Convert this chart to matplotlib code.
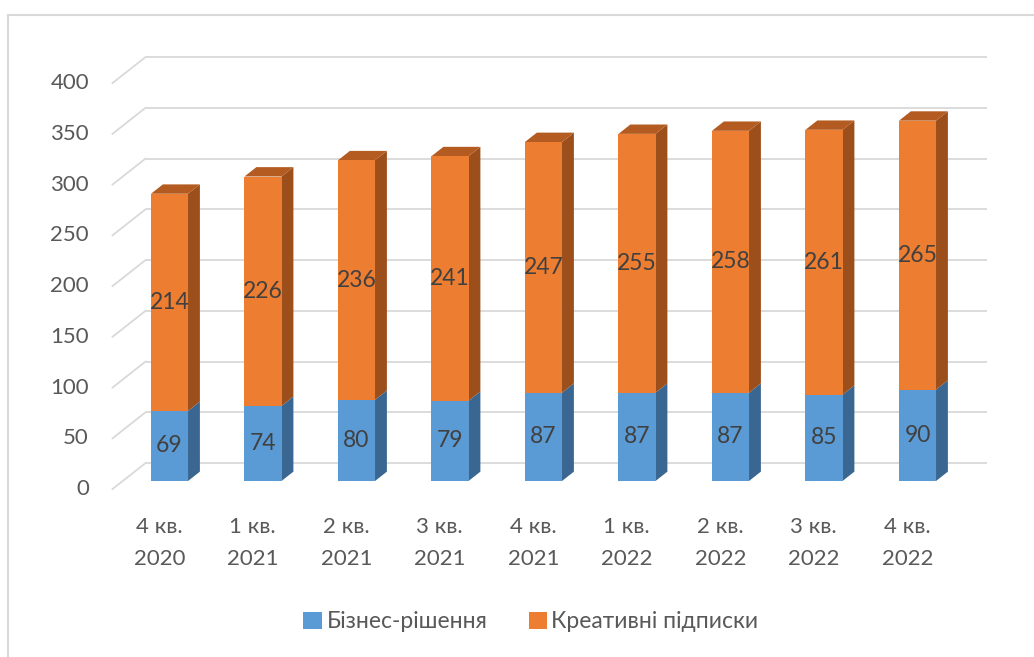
import matplotlib
matplotlib.use("Agg")
import matplotlib.pyplot as plt
from matplotlib.patches import Polygon, Patch
from matplotlib.lines import Line2D

plt.rcParams['font.family'] = ['Lato', 'DejaVu Sans']

# ---- data -------------------------------------------------------------
quarters = ["4 кв.\n2020", "1 кв.\n2021", "2 кв.\n2021", "3 кв.\n2021", "4 кв.\n2021",
            "1 кв.\n2022", "2 кв.\n2022", "3 кв.\n2022", "4 кв.\n2022"]
business = [69, 74, 80, 79, 87, 87, 87, 85, 90]
creative = [214, 226, 236, 241, 247, 255, 258, 261, 265]
series_names = ["Бізнес-рішення", "Креативні підписки"]
y_ticks = [0, 50, 100, 150, 200, 250, 300, 350, 400]

# ---- styling ----------------------------------------------------------
W, H, DPI = 1034, 657, 100
PX_PER_CAT = 93.5          # horizontal pixels per category step
PX_PER_UNIT = 1.015        # vertical pixels per value unit
ORIGIN_X, ORIGIN_Y = 169.5, 481.0   # pixel of first category, value 0 (bar plane)

BAR_W = 0.396
DEPTH_PX = (33.0, 26.0)    # full floor depth (right, up) in pixels
FRONT_FRAC = 0.31          # bar front plane behind the floor front edge
BAR_DEPTH = 0.36           # bar depth as a share of the floor depth

colors = {
    "blue": ("#5B9BD5", "#3A6792", "#4A80B3"),
    "orange": ("#ED7D31", "#9C4F1B", "#B35B20"),
}
GRID = "#D9D9D9"
TEXT = "#595959"
LABEL = "#404040"
FS = 16

fig = plt.figure(figsize=(W / DPI, H / DPI), dpi=DPI)
ax = fig.add_axes([0, 0, 1, 1])
ax.set_xlim(-ORIGIN_X / PX_PER_CAT, (W - ORIGIN_X) / PX_PER_CAT)
ax.set_ylim((ORIGIN_Y - H) / PX_PER_UNIT, ORIGIN_Y / PX_PER_UNIT)
ax.axis("off")

# depth vector in data units
Dx = DEPTH_PX[0] / PX_PER_CAT
Dy = DEPTH_PX[1] / PX_PER_UNIT
back = 1 - FRONT_FRAC
front = -FRONT_FRAC
x_lo, x_hi = -0.5, len(quarters) - 0.5

# gridlines on back wall and left wall
for v in y_ticks:
    ax.plot([x_lo + back * Dx, x_hi + back * Dx], [v + back * Dy] * 2,
            color=GRID, lw=1.3, zorder=1, solid_capstyle="butt")
    ax.plot([x_lo + front * Dx, x_lo + back * Dx], [v + front * Dy, v + back * Dy],
            color=GRID, lw=1.3, zorder=1)
    ax.annotate(str(v), (x_lo + front * Dx, v + front * Dy), xytext=(-17, 0),
                textcoords="offset points", ha="right", va="center",
                fontsize=FS, color=TEXT)


def draw_box(x0, y0, y1, cols, top=True, z=3):
    fc, sc, tc = cols
    x1 = x0 + BAR_W
    dx, dy = BAR_DEPTH * Dx, BAR_DEPTH * Dy
    ax.add_patch(Polygon([(x1, y0), (x1 + dx, y0 + dy), (x1 + dx, y1 + dy), (x1, y1)],
                         closed=True, fc=sc, ec="none", zorder=z))
    if top:
        ax.add_patch(Polygon([(x0, y1), (x0 + dx, y1 + dy), (x1 + dx, y1 + dy), (x1, y1)],
                             closed=True, fc=tc, ec="none", zorder=z))
    ax.add_patch(Polygon([(x0, y0), (x1, y0), (x1, y1), (x0, y1)],
                         closed=True, fc=fc, ec="none", zorder=z + 0.5))


for i, (b, c) in enumerate(zip(business, creative)):
    x0 = i - BAR_W / 2
    draw_box(x0, 0, b, colors["blue"], top=False)
    draw_box(x0, b, b + c, colors["orange"], top=True)
    ax.text(i, b / 2, str(b), ha="center", va="center", fontsize=FS + 0.5, color=LABEL, zorder=6)
    ax.text(i, b + c / 2, str(c), ha="center", va="center", fontsize=FS + 0.5, color=LABEL, zorder=6)
    ax.annotate(quarters[i], (i + front * Dx, front * Dy), xytext=(0, -39),
                textcoords="offset points", ha="center", va="center",
                fontsize=FS, color=TEXT, linespacing=1.72)

# legend
handles = [Patch(fc=colors["blue"][0], ec="none"), Patch(fc=colors["orange"][0], ec="none")]
fig.legend(handles, series_names, loc="center", bbox_to_anchor=(531 / W, 35 / H),
           ncol=2, frameon=False, fontsize=FS + 0.5, labelcolor=TEXT,
           handlelength=0.8, handleheight=0.7, handletextpad=0.2, columnspacing=1.8)

# chart border (top and left edges)
fig.add_artist(Line2D([8 / W, 1], [1 - 15 / H, 1 - 15 / H], transform=fig.transFigure,
                      color=GRID, lw=1.5))
fig.add_artist(Line2D([8 / W, 8 / W], [0, 1 - 15 / H], transform=fig.transFigure,
                      color=GRID, lw=1.5))

fig.savefig("out.png", dpi=DPI, facecolor="white")
